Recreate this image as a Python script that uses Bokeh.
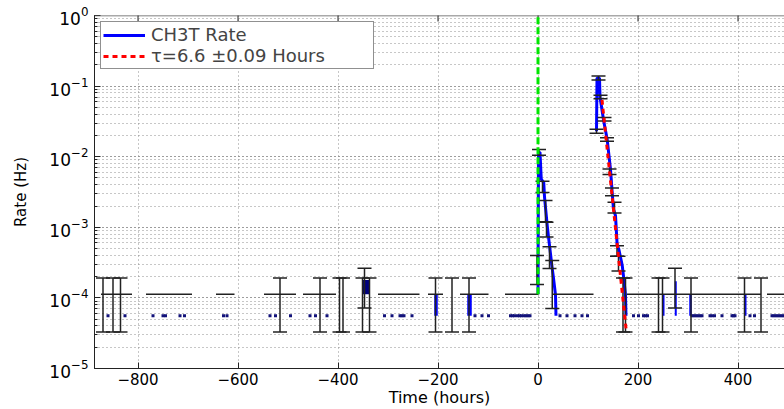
import math
from bokeh.plotting import figure
from bokeh.models import FixedTicker, LogTicker, Legend, LegendItem, Span
from bokeh.embed import file_html
from bokeh.resources import INLINE

# ---------------- data ----------------
x_ticks = [-800, -600, -400, -200, 0, 200, 400]
x_tick_labels = ["\u2212800", "\u2212600", "\u2212400", "\u2212200", "0", "200", "400"]

# single-count bins: rate and its error interval
rate_one = 1.13e-4
rate_one_lo = 3.3e-5
rate_one_hi = 1.92e-4
one_count_t = [-870, -850, -835, -516, -436, -397, -390, -351, -337, -205,
               -172, -138, 170, 175, 241, 249, 306, 413, 446]

# bins with a slightly higher rate
tall_t = [-347, 274]
tall_rate = [1.75e-4, 1.75e-4]
tall_lo = [7.2e-5, 7.2e-5]
tall_hi = [2.63e-4, 2.63e-4]

# empty bins: upper limits at the single-count rate
zero_start = [-874, -784, -644, -548, -470, -320, -220, -156, -66, 28, 178, 458]
zero_end = [-812, -692, -607, -484, -404, -237, -190, -99, 1, 111, 446, 493]

# half-count level points
half_rate = 5.6e-5
half_t = [-860, -826, -770, -750, -745, -716, -707, -629, -622, -536, -525,
          -495, -456, -445, -422, -307, -292, -276, -272, -268, -252,
          -126, -112, -99, -55, -51, -47, -41, -37, -33, -28, -24, -20, -16,
          44, 58, 74, 88, 99, 191, 201, 211, 215, 219,
          308, 312, 316, 320, 324, 328, 344, 348, 353, 368, 388, 391, 394,
          424, 433, 468, 472, 476, 480, 484, 488, 492]

# short rate steps of the rate curve
step_t = [-204, -137, -344, 251, 275.5, 305, 415]
step_w = [7, 9, 14, 4, 4, 5, 4]
step_lo = [5.6e-5, 5.6e-5, 1.13e-4, 5.6e-5, 5.6e-5, 5.6e-5, 5.6e-5]
step_hi = [1.13e-4, 1.13e-4, 1.8e-4, 1.13e-4, 1.72e-4, 1.13e-4, 1.13e-4]

# first burst
peak1_t = [0, 1, 4, 6.5, 11.5, 13, 18.5, 21.5, 28.5, 31, 35, 36]
peak1_rate = [1.13e-4, 1.15e-2, 1.15e-2, 4.8e-3, 4.3e-3, 2.7e-3, 1.05e-3,
              6.8e-4, 2.6e-4, 1.9e-4, 1.1e-4, 5.6e-5]
peak1_err_t = [-2, 2, 9, 15, 17, 23, 28.5]
peak1_err_rate = [2.7e-4, 1.15e-2, 3.8e-3, 1.7e-3, 9.3e-4, 3.8e-4, 2.0e-4]
peak1_err_lo = [1.55e-4, 1.05e-2, 3.1e-3, 1.2e-3, 7.3e-4, 2.6e-4, 7.1e-5]
peak1_err_hi = [3.98e-4, 1.26e-2, 4.5e-3, 2.4e-3, 1.18e-3, 5.3e-4, 3.4e-4]

# second burst
peak2_t = [117, 118, 123, 124, 131, 138.4, 145, 148.4, 151, 155, 158.4, 161.6,
           168.4, 171.6, 175, 176]
peak2_rate = [2.3e-2, 1.3e-1, 1.3e-1, 7.0e-2, 3.34e-2, 1.75e-2, 6.6e-3, 3.1e-3,
              1.8e-3, 1.46e-3, 5.5e-4, 4.9e-4, 2.9e-4, 1.87e-4, 1.1e-4, 5.6e-5]
peak2_err_t = [117, 121, 125, 133, 138, 143, 148, 153, 158, 161]
peak2_err_rate = [2.3e-2, 1.3e-1, 7.0e-2, 3.4e-2, 1.75e-2, 6.1e-3, 3.2e-3, 1.9e-3, 4.6e-4, 3.0e-4]
peak2_err_lo = [2.15e-2, 1.22e-1, 6.6e-2, 3.2e-2, 1.65e-2, 5.6e-3, 2.8e-3, 1.6e-3, 3.9e-4, 2.4e-4]
peak2_err_hi = [2.45e-2, 1.39e-1, 7.4e-2, 3.6e-2, 1.85e-2, 6.7e-3, 3.6e-3, 2.26e-3, 5.5e-4, 3.9e-4]

# exponential fit (tau = 6.6 h), straight on the log axis
fit_t = [128, 176]
fit_rate = [6.4e-2, 3.7e-5]

# trigger marker
trigger_t = [0]
trigger_lo = [1.13e-4]
trigger_hi = [1.0]

# ---------------- figure ----------------
FONT = "DejaVu Sans"
INK = "#222222"
p = figure(width=784, height=409, x_range=(-887, 493), y_range=(1e-5, 1),
           y_axis_type="log", output_backend="svg", toolbar_location=None,
           min_border_left=94, min_border_right=0, min_border_top=15,
           min_border_bottom=38)
p.outline_line_color = None
p.background_fill_color = "white"

# grids
p.xgrid.ticker = FixedTicker(ticks=x_ticks)
for g in (p.xgrid, p.ygrid):
    g.grid_line_color = "#8f8f8f"
    g.grid_line_dash = "1 3"
    g.grid_line_width = 1
p.ygrid.minor_grid_line_color = "#8f8f8f"
p.ygrid.minor_grid_line_dash = "1 3"
p.ygrid.minor_grid_line_width = 1

# axes
p.xaxis.ticker = FixedTicker(ticks=x_ticks)
p.xaxis.major_label_overrides = dict(zip(x_ticks, x_tick_labels))
p.yaxis.ticker = LogTicker(num_minor_ticks=10)
for ax in (p.xaxis, p.yaxis):
    ax.axis_line_color = INK
    ax.major_tick_line_color = INK
    ax.minor_tick_line_color = INK
    ax.major_tick_in = 6
    ax.major_tick_out = 0
    ax.minor_tick_in = 3
    ax.minor_tick_out = 0
    ax.major_label_text_font = FONT
    ax.axis_label_text_font = FONT
    ax.axis_label_text_font_style = "normal"
    ax.axis_label_text_color = "black"
    ax.major_label_text_color = "black"
p.xaxis.minor_tick_line_color = None
p.xaxis.major_label_text_font_size = "15px"
p.xaxis.major_label_standoff = 4
p.xaxis.axis_label = "Time (hours)"
p.xaxis.axis_label_text_font_size = "16px"
p.xaxis.axis_label_standoff = 0
p.yaxis.major_label_text_font_size = "17px"
p.yaxis.major_label_standoff = 6
p.yaxis.axis_label = "Rate (Hz)"
p.yaxis.axis_label_text_font_size = "15px"
p.yaxis.axis_label_standoff = 16

# top frame line with inward ticks
p.add_layout(Span(location=1.0, dimension="width", line_color="#555555", line_width=1.5))
p.scatter(x=x_ticks, y=[1.0] * len(x_ticks), marker="dash", angle=math.pi / 2,
          size=12, line_color=INK, line_width=1)

# rate curve: steps and bursts
blue = "#0000ff"
p.vbar(x=step_t, width=step_w, bottom=step_lo, top=step_hi,
       fill_color=[blue, blue, "#000080", blue, blue, blue, blue], line_color=None)
rate_r = p.multi_line(xs=[peak1_t, peak2_t], ys=[peak1_rate, peak2_rate],
                      line_color=blue, line_width=3)
p.scatter(x=half_t, y=[half_rate] * len(half_t), marker="square", size=3,
          fill_color="#12127a", line_color=None)

# empty-bin upper limits
p.segment(x0=zero_start, y0=rate_one, x1=zero_end, y1=rate_one,
          line_color=INK, line_width=1.5)

# error bars
err_t = one_count_t + tall_t + peak1_err_t + peak2_err_t
err_lo = [rate_one_lo] * len(one_count_t) + tall_lo + peak1_err_lo + peak2_err_lo
err_hi = [rate_one_hi] * len(one_count_t) + tall_hi + peak1_err_hi + peak2_err_hi
cap = 14
p.segment(x0=err_t, y0=err_lo, x1=err_t, y1=err_hi, line_color=INK, line_width=1.5)
p.segment(x0=[t - cap for t in err_t], y0=err_lo, x1=[t + cap for t in err_t], y1=err_lo,
          line_color=INK, line_width=1.5)
p.segment(x0=[t - cap for t in err_t], y0=err_hi, x1=[t + cap for t in err_t], y1=err_hi,
          line_color=INK, line_width=1.5)

# fit and trigger
fit_r = p.line(fit_t, fit_rate, line_color="#ff0000", line_width=3, line_dash="5 4")
p.segment(x0=trigger_t, y0=trigger_lo, x1=trigger_t, y1=trigger_hi,
          line_color="#00e600", line_width=3, line_dash="7 3")

legend = Legend(items=[LegendItem(label="CH3T Rate", renderers=[rate_r]),
                       LegendItem(label="\u03c4=6.6 \u00b10.09 Hours", renderers=[fit_r])],
                location="top_left", margin=6, padding=2, spacing=0,
                glyph_width=42, glyph_height=16, label_height=16, label_width=220,
                label_standoff=6, label_text_font=FONT, label_text_font_size="18px",
                border_line_color=INK, border_line_width=1,
                background_fill_alpha=1.0)
p.add_layout(legend)

open("out.html", "w").write(file_html(p, INLINE))
